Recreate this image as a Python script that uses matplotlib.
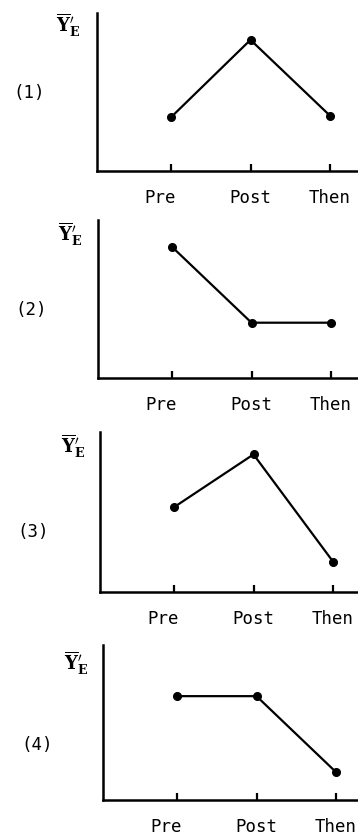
import matplotlib
matplotlib.use("Agg")
import matplotlib.pyplot as plt
import matplotlib.transforms as mtransforms

plt.rcParams["mathtext.fontset"] = "dejavuserif"

phases = ["Pre", "Post", "Then"]
panel_names = ["(1)", "(2)", "(3)", "(4)"]

# mean Y'_E (0 = x axis, 10 = top of y axis)
pattern1 = [3.4, 8.3, 3.5]
pattern2 = [8.3, 3.5, 3.5]
pattern3 = [5.3, 8.6, 1.9]
pattern4 = [6.7, 6.7, 1.8]
patterns = [pattern1, pattern2, pattern3, pattern4]

W, H = 358, 836
fig = plt.figure(figsize=(W / 100, H / 100), dpi=100)

# axes boxes in pixels: left, top, bottom of the y axis
boxes = [(97, 13, 171), (98, 220, 378), (100, 432, 592), (103, 645, 800)]
ylab_pos = [(68, 25), (70, 234), (73, 446), (76, 663)]
name_pos = [(29, 93), (31, 310), (33, 532), (37, 745)]

step = 79.5   # pixels between category ticks
first = 74    # pixels from y axis to first tick

for vals, (left, top, bottom), (lx, ly), (nx, ny), name in zip(
        patterns, boxes, ylab_pos, name_pos, panel_names):
    width = W - left
    ax = fig.add_axes([left / W, (H - bottom) / H, width / W, (bottom - top) / H])
    x = range(len(phases))
    ax.plot(x, vals, color="black", lw=1.6, marker="o", ms=5.5, clip_on=False)
    ax.set_xlim(-first / step, (width - first) / step)
    ax.set_ylim(0, 10)
    ax.set_xticks(list(x))
    ax.set_xticklabels(phases, family="DejaVu Sans Mono", fontsize=12.5)
    ax.set_yticks([])
    ax.tick_params(axis="x", direction="in", length=5, width=1.6, pad=13)
    for s in ["top", "right"]:
        ax.spines[s].set_visible(False)
    ax.spines["left"].set_linewidth(1.8)
    ax.spines["bottom"].set_linewidth(1.8)
    # "Pre" sits a little left of its tick in the original
    lab = ax.get_xticklabels()[0]
    lab.set_transform(lab.get_transform() + mtransforms.ScaledTranslation(-11 / 100, 0, fig.dpi_scale_trans))

    fig.text(lx / W, 1 - ly / H, r"$\overline{\mathbf{Y}}{}^{\prime}_{\mathbf{E}}$",
             fontsize=13, ha="center", va="center")
    fig.text(nx / W, 1 - ny / H, name, family="DejaVu Sans Mono", fontsize=12.5,
             ha="center", va="center")

plt.savefig("out.png", dpi=100)
